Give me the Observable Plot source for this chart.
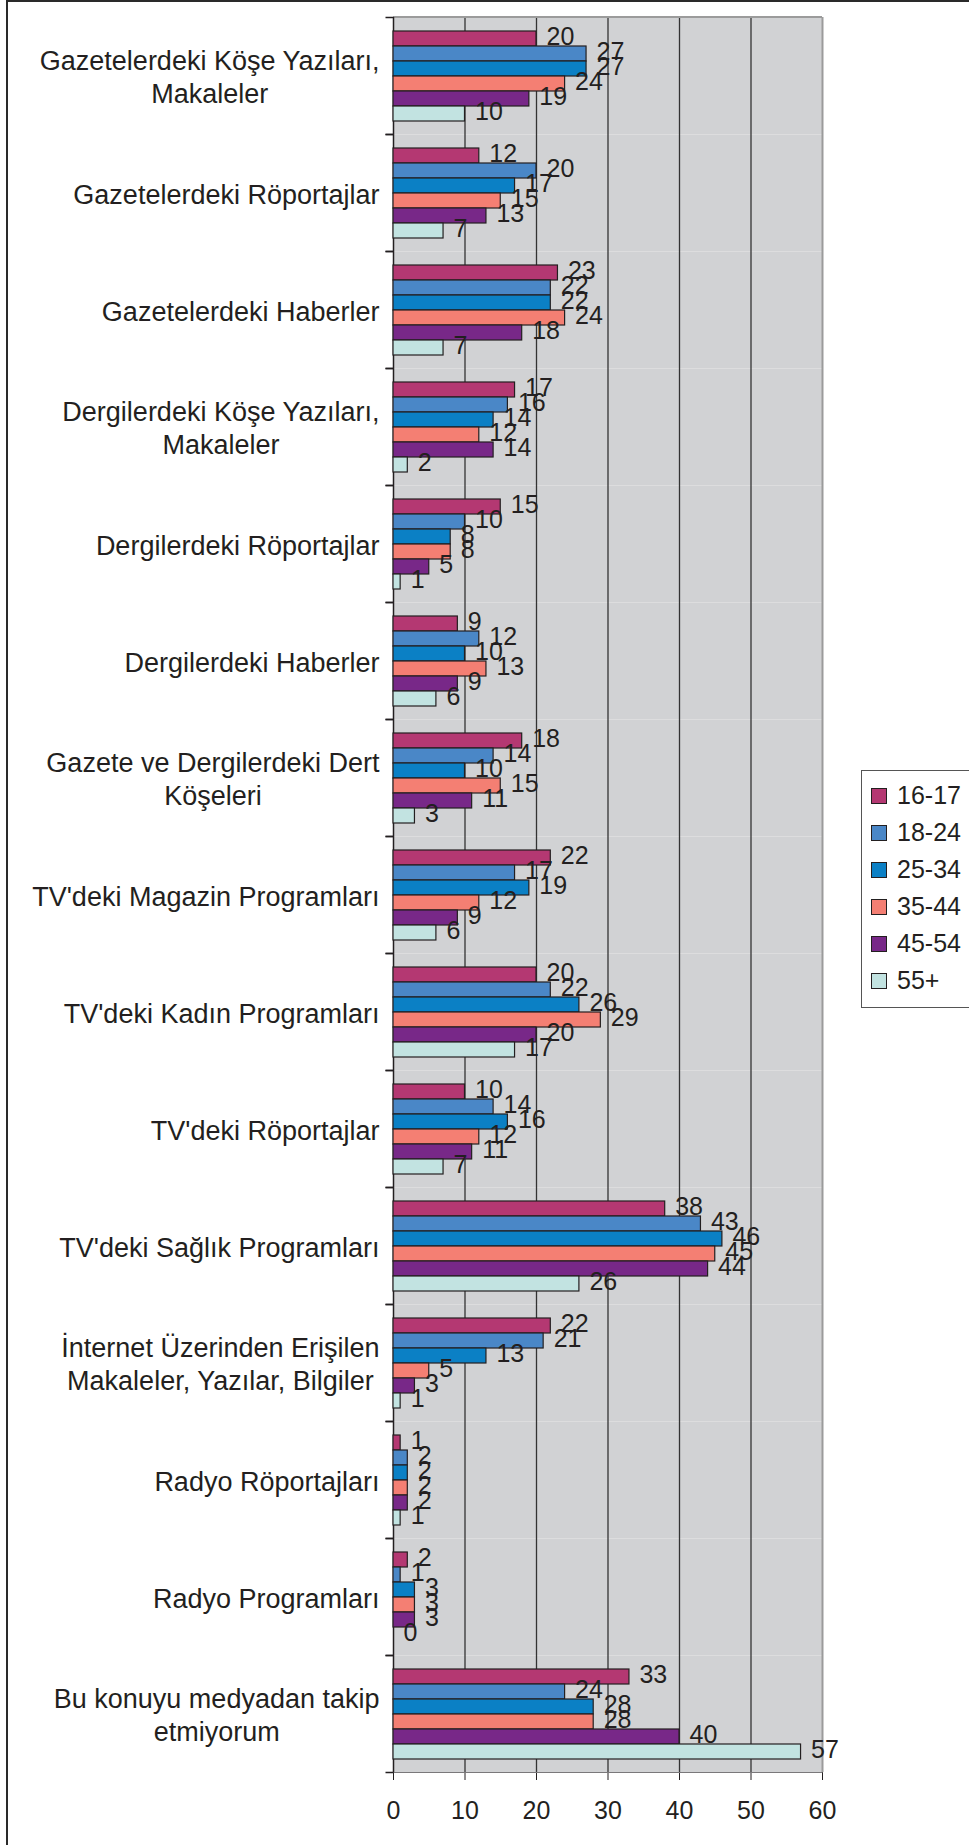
<!DOCTYPE html>
<html>
<head>
<meta charset="utf-8">
<script src="https://cdn.jsdelivr.net/npm/d3@7"></script>
<script src="https://cdn.jsdelivr.net/npm/@observablehq/plot@0.6"></script>
<style>
  html, body { margin: 0; padding: 0; background: #fff; }
  body { font-family: "Liberation Sans", Arial, Helvetica, sans-serif; color: #231f20; }
  #wrap { position: relative; width: 969px; height: 1845px; overflow: hidden; }
  #frameTop { position: absolute; left: 7px; top: 0; width: 962px; height: 2px; background: #2a2a2a; }
  #frameLeft { position: absolute; left: 6px; top: 0; width: 2px; height: 1845px; background: #2a2a2a; }
  #chart { position: absolute; left: 0; top: 0; }
  #legend { position: absolute; left: 861px; top: 770px; width: 160px; padding: 6px 0 8px 0;
            border: 1.5px solid #555; background: #fff; }
  .item { display: flex; align-items: center; height: 37px; font-size: 25px; line-height: 1; }
  .sw { width: 14px; height: 14px; border: 1.3px solid #231f20; margin-left: 9px; margin-right: 10px; flex: none; }
</style>
</head>
<body>
<div id="wrap">
  <div id="chart"></div>
  <div id="frameTop"></div>
  <div id="frameLeft"></div>
  <div id="legend"></div>
</div>
<script>
// ---- data ----
const categories = [
  "Gazetelerdeki Köşe Yazıları,\nMakaleler",
  "Gazetelerdeki Röportajlar",
  "Gazetelerdeki Haberler",
  "Dergilerdeki Köşe Yazıları,\nMakaleler",
  "Dergilerdeki Röportajlar",
  "Dergilerdeki Haberler",
  "Gazete ve Dergilerdeki Dert\nKöşeleri",
  "TV'deki Magazin Programları",
  "TV'deki Kadın Programları",
  "TV'deki Röportajlar",
  "TV'deki Sağlık Programları",
  "İnternet Üzerinden Erişilen\nMakaleler, Yazılar, Bilgiler",
  "Radyo Röportajları",
  "Radyo Programları",
  "Bu konuyu medyadan takip\netmiyorum"
];
const ages = ["16-17", "18-24", "25-34", "35-44", "45-54", "55+"];
const v16_17 = [20, 12, 23, 17, 15,  9, 18, 22, 20, 10, 38, 22, 1, 2, 33];
const v18_24 = [27, 20, 22, 16, 10, 12, 14, 17, 22, 14, 43, 21, 2, 1, 24];
const v25_34 = [27, 17, 22, 14,  8, 10, 10, 19, 26, 16, 46, 13, 2, 3, 28];
const v35_44 = [24, 15, 24, 12,  8, 13, 15, 12, 29, 12, 45,  5, 2, 3, 28];
const v45_54 = [19, 13, 18, 14,  5,  9, 11,  9, 20, 11, 44,  3, 2, 3, 40];
const v55    = [10,  7,  7,  2,  1,  6,  3,  6, 17,  7, 26,  1, 1, 0, 57];
const colors = ["#b43872", "#4a87c7", "#0b80c5", "#f47f73", "#782888", "#c2e3e1"];
const xTicks = [0, 10, 20, 30, 40, 50, 60];
const gridTicks = [10, 20, 30, 40, 50];

const series = [v16_17, v18_24, v25_34, v35_44, v45_54, v55];
const rows = [];
categories.forEach((c, i) => ages.forEach((a, j) => rows.push({cat: c, age: a, value: series[j][i]})));

// ---- layout ----
const W = 969, H = 1845, mL = 393, mR = 147, mT = 17, mB = 73;
const plotW = W - mL - mR;
const facetH = (H - mT - mB) / categories.length;
const tickLen = 8;
const ink = "#231f20";

const chart = Plot.plot({
  width: W, height: H,
  marginLeft: mL, marginRight: mR, marginTop: mT, marginBottom: mB,
  style: {fontFamily: "'Liberation Sans', Arial, Helvetica, sans-serif", fontSize: "25px", color: ink, background: "transparent", overflow: "visible"},
  x: {domain: [xTicks[0], xTicks[xTicks.length - 1]], ticks: xTicks, tickSize: tickLen, tickPadding: 21, line: true, label: null, tickFormat: d => String(d)},
  y: {domain: ages, axis: null, paddingInner: 0, paddingOuter: 0.72},
  fy: {domain: categories, padding: 0, axis: null, label: null},
  color: {domain: ages, range: colors},
  marks: [
    Plot.frame({fill: "#d1d2d4", stroke: "none"}),
    Plot.ruleX(gridTicks, {stroke: "#333333", strokeWidth: 1.3}),
    Plot.ruleX([xTicks[xTicks.length - 1]], {stroke: "#9b9b9b", strokeWidth: 2}),
    Plot.barX([{cat: categories[0]}], {fy: "cat", x1: () => xTicks[0], x2: () => xTicks[xTicks.length - 1],
      fill: "none", stroke: "#9b9b9b", strokeWidth: 2, strokeDasharray: `${plotW} 100000`}),
    Plot.frame({insetLeft: -tickLen, fill: "none", stroke: ink, strokeWidth: 1.3,
      strokeDasharray: `${tickLen} ${2 * (plotW + tickLen) + facetH - 2 * tickLen} ${tickLen} 100000`}),
    Plot.ruleX([xTicks[0]], {stroke: ink, strokeWidth: 1.5}),
    Plot.barX(rows, {x: "value", y: "age", fy: "cat", fill: "age", stroke: ink, strokeWidth: 1.2}),
    Plot.text(rows, {x: "value", y: "age", fy: "cat", text: d => String(d.value), textAnchor: "start",
      dx: 10, dy: -2, fontSize: 25, fill: ink}),
    Plot.text(categories, {fy: d => d, text: d => d, frameAnchor: "left", textAnchor: "end",
      dx: -14, fontSize: 27, lineHeight: 1.22, fill: ink})
  ]
});

document.getElementById("chart").appendChild(chart);

// center wrapped category label lines within their right-aligned block
chart.querySelectorAll("text").forEach(t => {
  const spans = t.querySelectorAll("tspan");
  if (spans.length > 1) {
    let maxW = 0;
    spans.forEach(s => { maxW = Math.max(maxW, s.getComputedTextLength()); });
    t.setAttribute("text-anchor", "middle");
    t.style.textAnchor = "middle";
    spans.forEach(s => {
      const x0 = +(s.getAttribute("x") || 0);
      s.setAttribute("x", x0 - maxW / 2);
      s.style.textAnchor = "middle";
    });
  }
});

// legend
const legend = document.getElementById("legend");
ages.forEach((a, i) => {
  const it = document.createElement("div");
  it.className = "item";
  const sw = document.createElement("span");
  sw.className = "sw";
  sw.style.background = colors[i];
  const tx = document.createElement("span");
  tx.textContent = a;
  it.appendChild(sw); it.appendChild(tx);
  legend.appendChild(it);
});
</script>
</body>
</html>
